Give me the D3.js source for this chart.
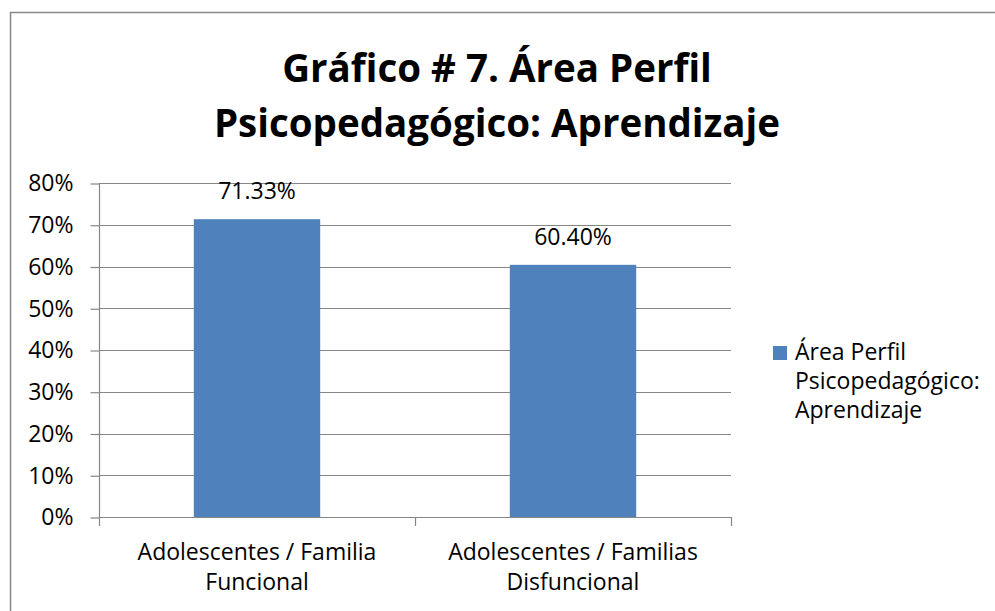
<!DOCTYPE html>
<html>
<head>
<meta charset="utf-8">
<script src="https://cdn.jsdelivr.net/npm/d3@7"></script>
<style>
  body { margin: 0; background: #fff; }
  svg text { font-family: "Open Sans", "Noto Sans", sans-serif; fill: #000; }
</style>
</head>
<body>
<script>
// chart data
var categories = ["Adolescentes / Familia Funcional", "Adolescentes / Familias Disfuncional"];
var catLines = [["Adolescentes / Familia", "Funcional"], ["Adolescentes / Familias", "Disfuncional"]];
var values = [0.7133, 0.6040];
var valueLabels = ["71.33%", "60.40%"];
var yTicks = [0, 0.1, 0.2, 0.3, 0.4, 0.5, 0.6, 0.7, 0.8];
var titleLines = ["Gráfico # 7. Área Perfil", "Psicopedagógico: Aprendizaje"];
var legendLines = ["Área Perfil", "Psicopedagógico:", "Aprendizaje"];

var W = 995, H = 611;
var barColor = "#4f81bd";
var gridColor = "#868686";
var fontSize = "23px";

var svg = d3.select("body").append("svg")
  .attr("width", W).attr("height", H);

// chart border (runs off the right and bottom edges)
svg.append("rect")
  .attr("x", 10.5).attr("y", 12.5)
  .attr("width", W + 10).attr("height", H + 10)
  .attr("fill", "none")
  .attr("stroke", "#888")
  .attr("stroke-width", 1.5);

// title
svg.append("g").selectAll("text")
  .data(titleLines).enter()
  .append("text")
  .attr("x", 497)
  .attr("y", function(d, i) { return 82 + i * 55; })
  .attr("text-anchor", "middle")
  .style("font-size", "38.5px")
  .style("font-weight", "bold")
  .text(function(d) { return d; });

var plot = { left: 99, right: 731, top: 183, bottom: 517 };

var y = d3.scaleLinear()
  .domain([0, 0.8])
  .range([plot.bottom, plot.top]);

var x = d3.scaleBand()
  .domain(categories)
  .range([plot.left, plot.right])
  .paddingInner(0.6)
  .paddingOuter(0.3);

// gridlines
svg.append("g")
  .selectAll("line")
  .data(yTicks.slice(1)).enter()
  .append("line")
  .attr("x1", plot.left).attr("x2", plot.right)
  .attr("y1", function(d) { return Math.round(y(d)) + 0.5; })
  .attr("y2", function(d) { return Math.round(y(d)) + 0.5; })
  .attr("stroke", gridColor)
  .attr("stroke-width", 1.2);

// y axis
var yAxis = d3.axisLeft(y)
  .tickValues(yTicks)
  .tickSize(9)
  .tickPadding(17)
  .tickFormat(d3.format(".0%"));

var yg = svg.append("g")
  .attr("transform", "translate(" + (plot.left + 0.5) + ",0.5)")
  .call(yAxis);
yg.selectAll("line, path").attr("stroke", gridColor).attr("stroke-width", 1.2);
yg.select(".domain").attr("d", "M0," + plot.top + "V" + plot.bottom);
yg.selectAll("text")
  .style("font-size", fontSize)
  .style("font-family", "'Open Sans', sans-serif")
  .attr("fill", "#000");

// bars
svg.append("g")
  .selectAll("rect")
  .data(values).enter()
  .append("rect")
  .attr("x", function(d, i) { return x(categories[i]); })
  .attr("y", function(d) { return y(d); })
  .attr("width", x.bandwidth())
  .attr("height", function(d) { return y(0) - y(d); })
  .attr("fill", barColor);

// data labels
svg.append("g")
  .selectAll("text")
  .data(values).enter()
  .append("text")
  .attr("x", function(d, i) { return x(categories[i]) + x.bandwidth() / 2; })
  .attr("y", function(d) { return y(d) - 20; })
  .attr("text-anchor", "middle")
  .style("font-size", fontSize)
  .text(function(d, i) { return valueLabels[i]; });

// x axis: baseline plus ticks on category boundaries
var step = x.step();
var xg = svg.append("g");
xg.append("line")
  .attr("x1", plot.left).attr("x2", plot.right)
  .attr("y1", plot.bottom + 0.5).attr("y2", plot.bottom + 0.5)
  .attr("stroke", gridColor).attr("stroke-width", 1.2);
xg.selectAll("line.tick")
  .data(d3.range(categories.length + 1)).enter()
  .append("line")
  .attr("class", "tick")
  .attr("x1", function(i) { return plot.left + i * step + 0.5; })
  .attr("x2", function(i) { return plot.left + i * step + 0.5; })
  .attr("y1", plot.bottom)
  .attr("y2", plot.bottom + 9)
  .attr("stroke", gridColor).attr("stroke-width", 1.2);

// category labels
categories.forEach(function(c, i) {
  svg.append("g").selectAll("text")
    .data(catLines[i]).enter()
    .append("text")
    .attr("x", x(c) + x.bandwidth() / 2)
    .attr("y", function(d, j) { return 560 + j * 30; })
    .attr("text-anchor", "middle")
    .style("font-size", fontSize)
    .text(function(d) { return d; });
});

// legend
var legend = svg.append("g");
legend.append("rect")
  .attr("x", 773).attr("y", 346)
  .attr("width", 14).attr("height", 14)
  .attr("fill", barColor);
legend.selectAll("text")
  .data(legendLines).enter()
  .append("text")
  .attr("x", 795)
  .attr("y", function(d, i) { return 360 + i * 29; })
  .style("font-size", fontSize)
  .text(function(d) { return d; });
</script>
</body>
</html>
